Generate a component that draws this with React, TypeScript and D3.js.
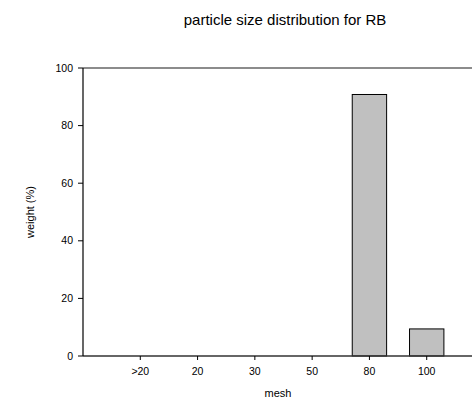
import React from "react";
import * as d3 from "d3";

const categories = [">20", "20", "30", "50", "80", "100"];
const weights = [0, 0, 0, 0, 90.8, 9.4];
const yTicks = [0, 20, 40, 60, 80, 100];
const title = "particle size distribution for RB";
const xLabel = "mesh";
const yLabel = "weight (%)";

const W = 472;
const H = 405;
const left = 83;
const top = 68;
const bottom = 356;
const right = 484;
const font = "'Liberation Sans', Arial, sans-serif";

export default function App() {
  const step = (right - left) / (categories.length + 1);
  const x = d3
    .scalePoint<string>()
    .domain(categories)
    .range([left + step, right - step]);
  const y = d3.scaleLinear().domain([0, 100]).range([bottom, top]);
  const bw = step * 0.6;

  return (
    <svg
      width={W}
      height={H}
      style={{ position: "absolute", left: 0, top: 0 }}
      fontFamily={font}
    >
      <rect width={W} height={H} fill="white" />
      <text x={285} y={24.5} fontSize={15} textAnchor="middle" fill="#000">
        {title}
      </text>
      {categories.map((c, i) =>
        weights[i] > 0 ? (
          <rect
            key={c}
            x={x(c)! - bw / 2}
            y={y(weights[i])}
            width={bw}
            height={bottom - y(weights[i])}
            fill="#c0c0c0"
            stroke="#000"
            strokeWidth={1}
          />
        ) : null
      )}
      <line x1={left} x2={W} y1={top} y2={top} stroke="#666" strokeWidth={1.5} />
      <line x1={left} x2={W} y1={bottom} y2={bottom} stroke="#333" strokeWidth={1.5} />
      <line x1={left} x2={left} y1={top} y2={bottom} stroke="#000" strokeWidth={1.2} />
      {yTicks.map((t) => (
        <g key={t}>
          <line x1={left - 5} x2={left} y1={y(t)} y2={y(t)} stroke="#000" />
          <text
            x={left - 10}
            y={y(t)}
            dy="0.35em"
            fontSize={10.5}
            textAnchor="end"
            fill="#000"
          >
            {t}
          </text>
        </g>
      ))}
      {categories.map((c) => (
        <g key={c}>
          <line x1={x(c)} x2={x(c)} y1={bottom} y2={bottom + 4} stroke="#000" />
          <text
            x={x(c)}
            y={bottom + 19}
            fontSize={10.5}
            textAnchor="middle"
            fill="#000"
          >
            {c}
          </text>
        </g>
      ))}
      <text x={278} y={397} fontSize={11} textAnchor="middle" fill="#000">
        {xLabel}
      </text>
      <text
        transform={`translate(34,${(top + bottom) / 2}) rotate(-90)`}
        fontSize={11}
        textAnchor="middle"
        fill="#000"
      >
        {yLabel}
      </text>
    </svg>
  );
}
